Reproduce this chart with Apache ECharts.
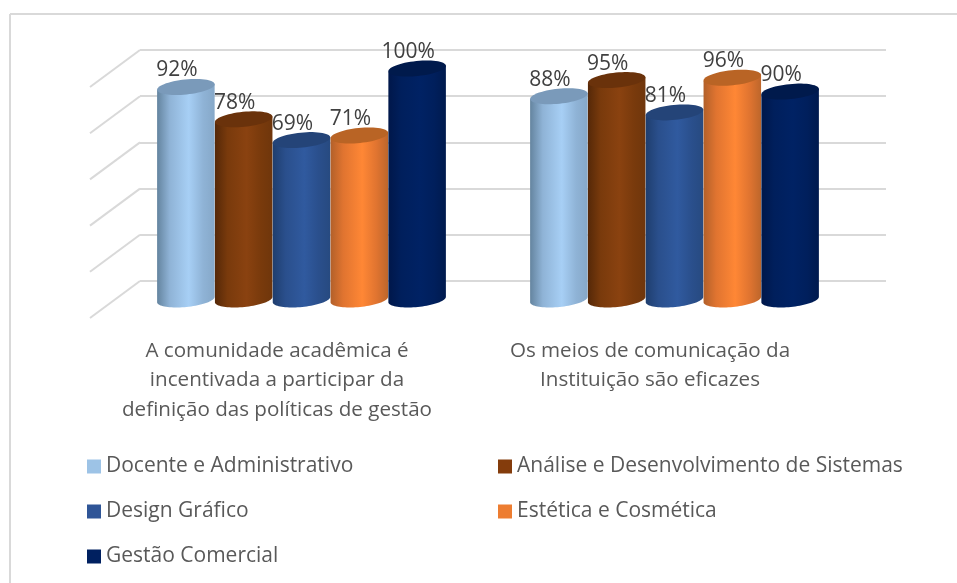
<!DOCTYPE html>
<html>
<head>
<meta charset="utf-8">
<style>html,body{margin:0;padding:0;background:#fff}#c{width:957px;height:583px}</style>
<script src="https://cdn.jsdelivr.net/npm/echarts@6/dist/echarts.min.js"></script>
</head>
<body>
<div id="c"></div>
<script>
const categories = [
  "A comunidade acadêmica é\nincentivada a participar da\ndefinição das políticas de gestão",
  "Os meios de comunicação da\nInstituição são eficazes"
];
const seriesNames = ["Docente e Administrativo","Análise e Desenvolvimento de Sistemas","Design Gráfico","Estética e Cosmética","Gestão Comercial"];
const docente = [92, 88];
const analise = [78, 95];
const design = [69, 81];
const estetica = [71, 96];
const gestao = [100, 90];
const gridTicks = [0, 20, 40, 60, 80, 100];

const FONT = '"Open Sans", sans-serif';
const looks = [
  {base:'#9dc3e6', edge:'#64849f', mid:'#8fb3d6', light:'#a7cff5', right:'#86a8c8', top:'#7a9aba'},
  {base:'#843c0c', edge:'#552808', mid:'#793a0c', light:'#8a4210', right:'#6f360c', top:'#6a320b'},
  {base:'#2f5597', edge:'#1f3e6e', mid:'#2a4f8c', light:'#305a9f', right:'#274a80', top:'#244478'},
  {base:'#ed7d31', edge:'#b2602a', mid:'#e07430', light:'#ff8735', right:'#bd662b', top:'#b96425'},
  {base:'#002060', edge:'#00174a', mid:'#001f5c', light:'#002264', right:'#001a4e', top:'#001a4c'}
];
const depthX = -50, depthY = 37;   // wall-to-front shift of the 3D floor
const barFrac = 0.155, ry = 7.5, tilt = 0.1;

function ellipsePoint(cx, cy, rx, t) {
  return [
    cx + rx * Math.cos(t) * Math.cos(tilt) + ry * Math.sin(t) * Math.sin(tilt),
    cy - rx * Math.cos(t) * Math.sin(tilt) + ry * Math.sin(t) * Math.cos(tilt)
  ];
}
function cylinder(si) {
  return function (params, api) {
    const look = looks[si];
    const band = api.size([1, 0])[0];
    const w = band * barFrac, rx = w / 2;
    const top = api.coord([api.value(0), api.value(1)]);
    const bot = api.coord([api.value(0), 0]);
    const cx = top[0] + (si - 2) * w + depthX / 2;
    const topY = top[1] + depthY / 2, botY = bot[1] + depthY / 2;
    const body = [ellipsePoint(cx, topY, rx, Math.PI)];
    for (let i = 0; i <= 40; i++) body.push(ellipsePoint(cx, botY, rx, Math.PI - Math.PI * i / 40));
    body.push(ellipsePoint(cx, topY, rx, 0));
    const cap = [];
    for (let i = 0; i < 60; i++) cap.push(ellipsePoint(cx, topY, rx, 2 * Math.PI * i / 60));
    return {
      type: 'group',
      children: [
        {type:'text', z2: 0, silent:true, style:{text: api.value(1) + '%', x: cx - 9, y: topY - 16.5, fill:'#404040', font:'21px ' + FONT, align:'center', verticalAlign:'middle'}},
        {type:'polygon', z2: 1, shape:{points: body}, style:{fill: new echarts.graphic.LinearGradient(0,0,1,0,[
          {offset:0, color:look.edge},{offset:0.22, color:look.mid},{offset:0.55, color:look.light},{offset:0.8, color:look.mid},{offset:1, color:look.right}
        ])}},
        {type:'polygon', z2: 2, shape:{points: cap}, style:{fill: look.top}}
      ]
    };
  };
}
const seriesValues = [docente, analise, design, estetica, gestao];
const barSeries = seriesValues.map((vals, si) => ({
  type:'custom', name: seriesNames[si], coordinateSystem:'cartesian2d',
  itemStyle:{color: looks[si].base},
  encode:{x:0, y:1},
  data: vals.map((v, i) => [i, v]),
  renderItem: cylinder(si)
}));
const sideWall = {
  type:'custom', name:'wall', coordinateSystem:'cartesian2d', silent:true, z:1,
  encode:{y:0},
  data: gridTicks.map(v => [v]),
  renderItem(params, api) {
    const y = api.coord([0, api.value(0)])[1];
    const x = params.coordSys.x;
    return {type:'line', shape:{x1:x, y1:y, x2:x + depthX, y2:y + depthY}, style:{stroke:'#d9d9d9', lineWidth:2}};
  }
};
const legendText = {fontFamily: FONT, fontSize: 21, color:'#595959'};
const chart = echarts.init(document.getElementById('c'), null, {renderer:'canvas'});
chart.setOption({
  animation:false,
  backgroundColor:'#fff',
  graphic:[
    {type:'line', silent:true, shape:{x1:10,y1:14,x2:957,y2:14}, style:{stroke:'#d9d9d9', lineWidth:2}},
    {type:'line', silent:true, shape:{x1:10,y1:14,x2:10,y2:583}, style:{stroke:'#d9d9d9', lineWidth:2}}
  ],
  grid:{left:140, right:71, top:50, bottom:302},
  legend:[
    {left:87, top:456, padding:0, orient:'vertical', itemWidth:14, itemHeight:14, itemGap:24, icon:'rect', textStyle:legendText, data:[seriesNames[0],seriesNames[2],seriesNames[4]]},
    {left:498, top:456, padding:0, orient:'vertical', itemWidth:14, itemHeight:14, itemGap:24, icon:'rect', textStyle:legendText, data:[seriesNames[1],seriesNames[3]]}
  ],
  xAxis:{type:'category', data:categories, axisLine:{show:false}, axisTick:{show:false},
    axisLabel:{interval:0, margin:55, fontFamily:FONT, fontSize:20.6, lineHeight:29.5, color:'#595959', padding:[0,99,0,0]}},
  yAxis:{type:'value', min:0, max:100, interval:20, axisLine:{show:false}, axisTick:{show:false}, axisLabel:{show:false},
    splitLine:{lineStyle:{color:'#d9d9d9', width:2}}},
  series:[sideWall].concat(barSeries)
});
</script>
</body>
</html>
